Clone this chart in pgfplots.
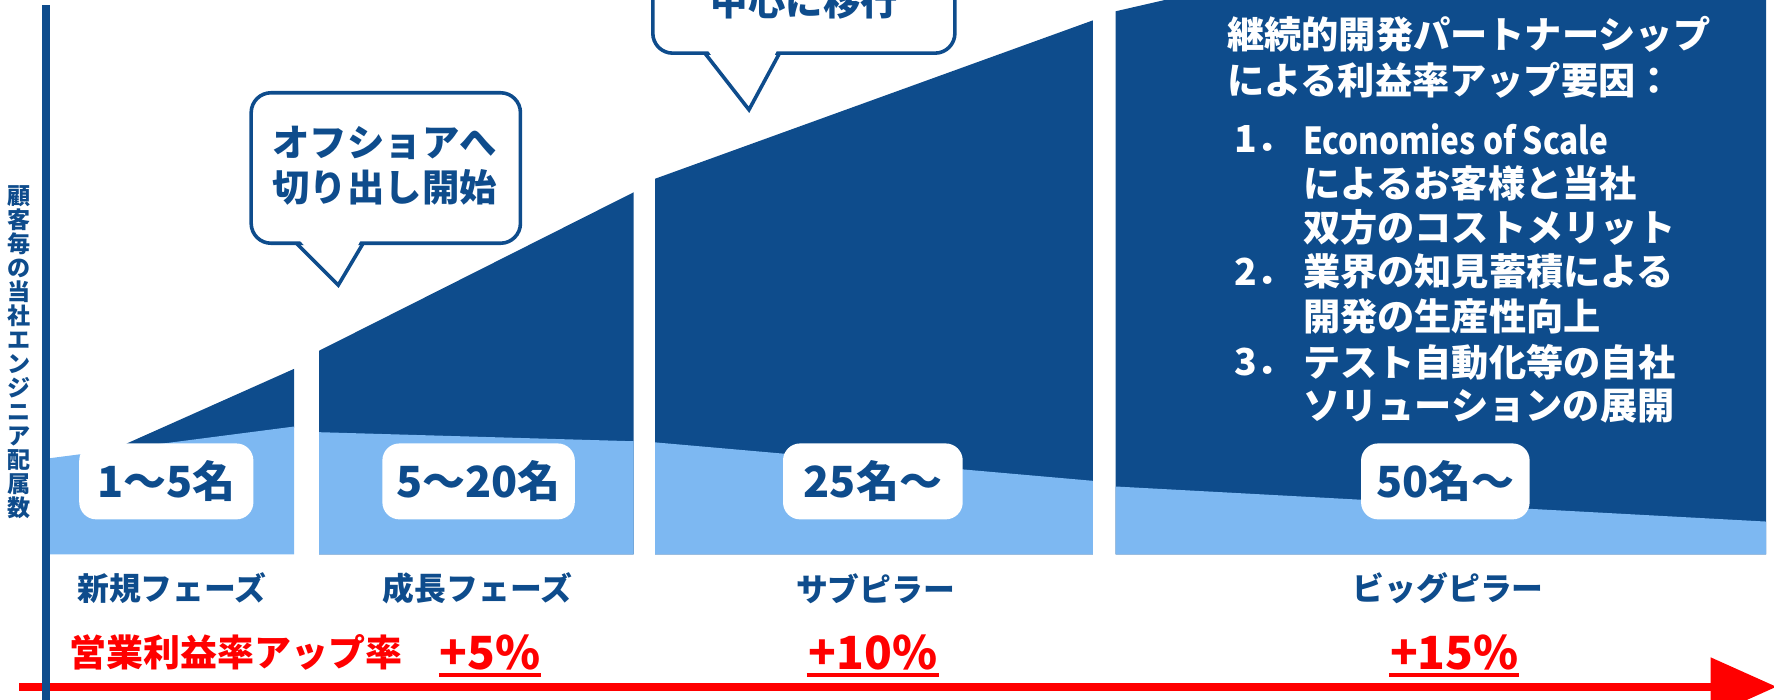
\documentclass[border=0pt]{standalone}
\usepackage{pgfplots}
\pgfplotsset{compat=1.18}
\usepackage{fontspec}
\setmainfont{Noto Sans CJK JP}
\newfontfamily\cond{Noto Sans CJK JP}[FakeStretch=0.85]
\definecolor{dblue}{RGB}{14,76,140}
\definecolor{lblue}{RGB}{125,184,242}
\definecolor{rred}{RGB}{255,0,0}
\newcommand\fs[2]{\fontsize{#1}{#2}\selectfont}

\begin{document}
\begin{tikzpicture}
\useasboundingbox (0,0) rectangle (15.68cm,6.18cm);
\begin{axis}[
    at={(0,0)}, anchor=south west,
    width=15.68cm, height=6.18cm, scale only axis,
    xmin=0, xmax=1568, ymin=0, ymax=618,
    y dir=reverse, % y counted from the top, like the picture
    hide axis, clip=true,
  ]
  % phase areas: dark = engineers, light = base
  \addplot[fill=dblue, draw=none] coordinates {(112,392) (260,326) (260,378) (112,397)} -- cycle;
  \addplot[fill=lblue, draw=none] coordinates {(44,405) (260,377) (260,490) (44,490)} -- cycle;
  \addplot[fill=dblue, draw=none] coordinates {(282,310) (560,170) (560,490) (282,490)} -- cycle;
  \addplot[fill=lblue, draw=none] coordinates {(282,382) (560,390) (560,490) (282,490)} -- cycle;
  \addplot[fill=dblue, draw=none] coordinates {(579,158) (966,18) (966,490) (579,490)} -- cycle;
  \addplot[fill=lblue, draw=none] coordinates {(579,391) (966,425) (966,490) (579,490)} -- cycle;
  \addplot[fill=dblue, draw=none] coordinates {(986,10) (1561,-122) (1561,490) (986,490)} -- cycle;
  \addplot[fill=lblue, draw=none] coordinates {(986,430) (1561,461) (1561,490) (986,490)} -- cycle;

  % red arrow
  \addplot[rred, line width=2pt] coordinates {(17,607) (1514,607)};
  \addplot[fill=rred, draw=none] coordinates {(1512,581) (1570,607) (1512,633)} -- cycle;
  % vertical axis line
  \addplot[dblue, line width=2pt] coordinates {(41,4.5) (41,640)};

  % callout 1
  \addplot[dblue, fill=white, line width=0.9pt, rounded corners=5pt]
    coordinates {(222,82) (460,82) (460,215) (222,215)} -- cycle;
  \addplot[fill=white, draw=none] coordinates {(263.5,211) (319.5,211) (299,250)} -- cycle;
  \addplot[dblue, line width=0.9pt] coordinates {(262,215) (299,252) (321,215)};
  % callout 2 (top cut)
  \addplot[dblue, fill=white, line width=0.9pt, rounded corners=5pt]
    coordinates {(577,-80) (844,-80) (844,47) (577,47)} -- cycle;
  \addplot[fill=white, draw=none] coordinates {(624.5,43) (687.5,43) (662,95)} -- cycle;
  \addplot[dblue, line width=0.9pt] coordinates {(623,47) (662,97) (689,47)};

  \node[text=dblue, font=\fs{9.4}{11.2}\bfseries, align=center, inner sep=0] at (axis cs:340,146.5)
    {オフショアへ\\切り出し開始};
  \node[text=dblue, font=\fs{9.4}{11.2}\bfseries, inner sep=0] at (axis cs:711,1) {中心に移行};

  % head-count boxes
  \tikzset{cnt/.style={fill=white, rounded corners=4.3pt, minimum height=19.1pt, inner sep=0,
      text=dblue, font=\fs{10.8}{12}\bfseries}}
  \node[cnt, minimum width=43.8pt] at (axis cs:147,425.5) {1〜5名};
  \node[cnt, minimum width=48.4pt] at (axis cs:423,425.5) {5〜20名};
  \node[cnt, minimum width=45.2pt] at (axis cs:771.5,425.5) {25名〜};
  \node[cnt, minimum width=42.4pt] at (axis cs:1277.5,425.5) {50名〜};

  % phase names
  \tikzset{ph/.style={text=dblue, font=\fs{8}{9}\bfseries, inner sep=0}}
  \node[ph] at (axis cs:152,520) {新規フェーズ};
  \node[ph] at (axis cs:422,520) {成長フェーズ};
  \node[ph] at (axis cs:774,520) {サブピラー};
  \node[ph] at (axis cs:1280,520) {ビッグピラー};

  % margin uplift
  \node[text=rred, font=\fs{9.3}{10}\bfseries, anchor=west, inner sep=0] at (axis cs:61,577) {営業利益率アップ率};
  \tikzset{pc/.style={text=rred, font=\fs{11.5}{12}\bfseries, inner sep=0}}
  \node[pc] at (axis cs:433,577) {+5\%};
  \node[pc] at (axis cs:771.5,577) {+10\%};
  \node[pc] at (axis cs:1285.5,577) {+15\%};
  \addplot[rred, line width=0.85pt] coordinates {(388,596.5) (478,596.5)};
  \addplot[rred, line width=0.85pt] coordinates {(713,596.5) (830,596.5)};
  \addplot[rred, line width=0.85pt] coordinates {(1228,596.5) (1343,596.5)};

  % y label, stacked
  \node[text=dblue, font=\fs{5.8}{6.03}\bfseries, align=center, inner sep=0] at (axis cs:17,311.5)
    {顧\\客\\毎\\の\\当\\社\\エ\\ン\\ジ\\ニ\\ア\\配\\属\\数};

  % text block at right
  \tikzset{wt/.style={text=white, font=\fs{9.36}{11}\bfseries, anchor=west, inner sep=0}}
  \node[wt] at (axis cs:1084,30) {継続的開発パートナーシップ};
  \node[wt] at (axis cs:1084,71) {による利益率アップ要因：};
  \node[wt] at (axis cs:1090,123) {1．};
  \node[wt] at (axis cs:1151,123) {\cond Economies of Scale};
  \node[wt] at (axis cs:1151,162) {によるお客様と当社};
  \node[wt] at (axis cs:1151,201) {双方のコストメリット};
  \node[wt] at (axis cs:1090,240) {2．};
  \node[wt] at (axis cs:1151,240) {業界の知見蓄積による};
  \node[wt] at (axis cs:1151,280) {開発の生産性向上};
  \node[wt] at (axis cs:1090,320) {3．};
  \node[wt] at (axis cs:1151,320) {テスト自動化等の自社};
  \node[wt] at (axis cs:1151,359) {ソリューションの展開};
\end{axis}
\end{tikzpicture}
\end{document}
